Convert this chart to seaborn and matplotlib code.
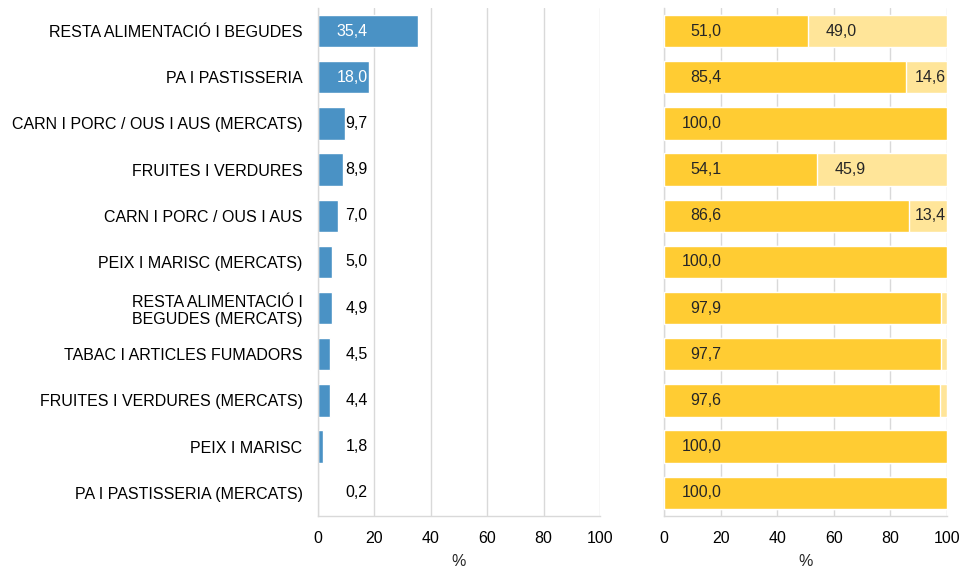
import numpy as np
import pandas as pd
import matplotlib
matplotlib.use("Agg")
import matplotlib.pyplot as plt
import seaborn as sns

# dades
categories = [
    "RESTA ALIMENTACIÓ I BEGUDES",
    "PA I PASTISSERIA",
    "CARN I PORC / OUS I AUS (MERCATS)",
    "FRUITES I VERDURES",
    "CARN I PORC / OUS I AUS",
    "PEIX I MARISC (MERCATS)",
    "RESTA ALIMENTACIÓ I\nBEGUDES (MERCATS)",
    "TABAC I ARTICLES FUMADORS",
    "FRUITES I VERDURES (MERCATS)",
    "PEIX I MARISC",
    "PA I PASTISSERIA (MERCATS)",
]
share = [35.4, 18.0, 9.7, 8.9, 7.0, 5.0, 4.9, 4.5, 4.4, 1.8, 0.2]
part_a = [51.0, 85.4, 100.0, 54.1, 86.6, 100.0, 97.9, 97.7, 97.6, 100.0, 100.0]
part_b = [49.0, 14.6, 0.0, 45.9, 13.4, 0.0, 2.1, 2.3, 2.4, 0.0, 0.0]

df = pd.DataFrame({"cat": categories, "share": share, "a": part_a, "b": part_b})
df["total"] = df["a"] + df["b"]

sns.set_theme(style="white")
plt.rcParams["font.family"] = ["Liberation Sans", "DejaVu Sans"]

BLUE = "#4a92c5"
GOLD = "#ffcc33"
LIGHT = "#ffe599"
GRID = "#d9d9d9"
FS = 11.5
fmt = lambda v: f"{v:.1f}".replace(".", ",")

fig = plt.figure(figsize=(9.63, 5.70), dpi=100)
ax1 = fig.add_axes([0.330, 0.095, 0.293, 0.891])
ax2 = fig.add_axes([0.6895, 0.095, 0.294, 0.891])

# gràfic esquerre
sns.barplot(data=df, y="cat", x="share", orient="h", color=BLUE,
            width=0.7, saturation=1, ax=ax1, zorder=2)
for i, v in enumerate(share):
    col = "white" if v > 15 else "black"
    ax1.text(17.7, i, fmt(v), va="center", ha="right", color=col,
             fontsize=FS, zorder=5)

# gràfic dret (apilat)
sns.barplot(data=df, y="cat", x="total", orient="h", color=LIGHT,
            width=0.7, saturation=1, ax=ax2, zorder=2)
sns.barplot(data=df, y="cat", x="a", orient="h", color=GOLD,
            width=0.7, saturation=1, ax=ax2, zorder=3)
for i, (a, b) in enumerate(zip(part_a, part_b)):
    ax2.text(20.3, i, fmt(a), va="center", ha="right", fontsize=FS, zorder=5)
    if b > 5:
        ax2.text(min(a + 17, 99.6), i, fmt(b), va="center", ha="right",
                 fontsize=FS, zorder=5)

for ax in (ax1, ax2):
    ax.set_xlim(0, 100)
    ax.set_ylim(10.5, -0.5)
    ax.set_xticks([0, 20, 40, 60, 80, 100])
    ax.xaxis.grid(True, color=GRID, linewidth=1, zorder=0)
    ax.set_axisbelow(True)
    for s in ("top", "right"):
        ax.spines[s].set_visible(False)
    for s in ("left", "bottom"):
        ax.spines[s].set_color(GRID)
        ax.spines[s].set_linewidth(1)
    ax.tick_params(axis="both", length=0, labelsize=FS, colors="black")
    ax.tick_params(axis="x", pad=11)
    ax.set_xlabel("%", fontsize=FS, labelpad=6)
    ax.set_ylabel("")

ax1.tick_params(axis="y", pad=11)
ax2.set_yticklabels([])

fig.savefig("out.png", dpi=100)
